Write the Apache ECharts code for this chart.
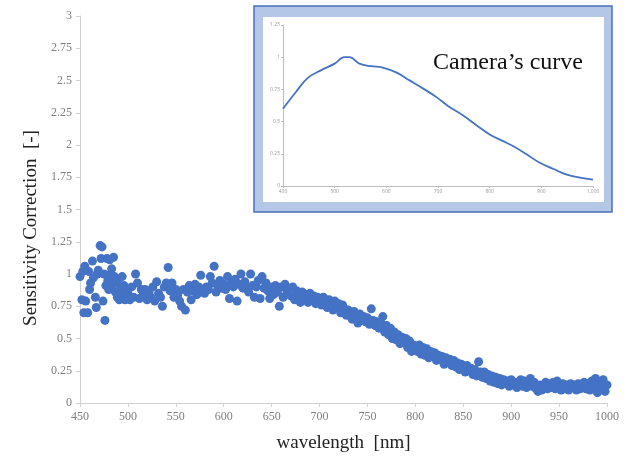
<!DOCTYPE html>
<html>
<head>
<meta charset="utf-8">
<script src="https://cdn.jsdelivr.net/npm/echarts@6/dist/echarts.min.js"></script>
<style>
  html, body { margin: 0; padding: 0; background: #fff; }
  #chart { width: 633px; height: 459px; }
</style>
</head>
<body>
<div id="chart"></div>
<script>
// measured sensitivity correction
const wavelength = [
  450, 452, 453, 454, 455, 456, 458, 459, 460, 461, 463, 464, 466, 467, 468, 469, 471, 472, 473, 474, 475, 476, 477, 478, 479,
  480, 481, 482, 483, 484, 485, 486, 487, 488, 489, 490, 491, 492, 493, 494, 495, 496, 497, 498, 499,
  500, 502, 504, 506, 508, 510, 512, 514, 516, 518, 520, 522, 524, 526, 528, 530, 532, 534, 536, 538, 540, 542, 544, 546, 548,
  550, 552, 554, 556, 558, 560, 562, 564, 566, 568, 570, 572, 574, 576, 578, 580, 582, 584, 586, 588, 590, 592, 594, 596, 598,
  600, 602, 604, 606, 608, 610, 612, 614, 616, 618, 620, 622, 624, 626, 628, 630, 632, 634, 636, 638, 640, 642, 644, 646, 648,
  650, 652, 654, 656, 658, 660, 662, 664, 666, 668, 670, 672, 674, 676, 678, 680, 682, 684, 686, 688, 690, 692, 694, 696, 698,
  700, 702, 704, 706, 708, 710, 712, 714, 716, 718, 720, 722, 724, 726, 728, 730, 732, 734, 736, 738, 740, 742, 744, 746, 748,
  750, 752, 754, 756, 758, 760, 762, 764, 766, 768, 770, 772, 774, 776, 778, 780, 782, 784, 786, 788, 790, 792, 794, 796, 798,
  800, 802, 804, 806, 808, 810, 812, 814, 816, 818, 820, 822, 824, 826, 828, 830, 832, 834, 836, 838, 840, 842, 844, 846, 848,
  850, 852, 854, 856, 858, 860, 862, 864, 866, 868, 870, 872, 874, 876, 878, 880, 882, 884, 886, 888, 890, 892, 894, 896, 898,
  900, 902, 904, 906, 908, 910, 912, 914, 916, 918, 920, 922, 924, 926, 928, 930, 932, 934, 936, 938, 940, 942, 944, 946, 948,
  950, 952, 954, 956, 958, 960, 962, 964, 966, 968, 970, 972, 974, 976, 978, 980, 982, 984, 986, 988, 990, 992, 994, 996, 998, 1000
];
const correction = [
  0.98, 0.80, 1.02, 0.70, 1.06, 0.79, 0.70, 1.02, 0.88, 0.93, 1.10, 0.97, 0.82, 0.74, 1.00, 1.03, 1.22, 1.12, 1.21, 0.79, 1.00, 0.64, 0.91, 1.12, 0.95,
  0.88, 1.11, 1.00, 1.04, 0.92, 1.13, 0.98, 0.86, 0.93, 0.82, 0.96, 0.80, 0.88, 0.85, 0.98, 0.81, 0.91, 0.80, 0.87, 0.83,
  0.85, 0.80, 0.90, 0.82, 1.00, 0.93, 0.81, 0.88, 0.84, 0.88, 0.80, 0.86, 0.82, 0.90, 0.79, 0.94, 0.85, 0.82, 0.75, 0.90, 0.93, 1.05, 0.87, 0.93, 0.82,
  0.88, 0.84, 0.79, 0.75, 0.88, 0.72, 0.86, 0.91, 0.80, 0.87, 0.92, 0.84, 0.90, 0.99, 0.87, 0.85, 0.90, 0.88, 0.98, 0.93, 1.06, 0.86, 0.90, 0.95, 0.89,
  0.92, 0.88, 0.98, 0.81, 0.93, 0.90, 0.96, 0.79, 0.92, 1.00, 0.89, 0.94, 0.90, 0.86, 1.00, 0.91, 0.82, 0.90, 0.95, 0.81, 0.98, 0.89, 0.93, 0.87, 0.81,
  0.90, 0.84, 0.91, 0.86, 0.75, 0.90, 0.82, 0.92, 0.86, 0.89, 0.83, 0.90, 0.80, 0.87, 0.84, 0.78, 0.86, 0.81, 0.84, 0.78, 0.85, 0.80, 0.83, 0.77, 0.82,
  0.80, 0.76, 0.82, 0.78, 0.74, 0.80, 0.77, 0.72, 0.79, 0.75, 0.77, 0.70, 0.76, 0.73, 0.68, 0.72, 0.70, 0.65, 0.71, 0.66, 0.62, 0.69, 0.64, 0.67, 0.63,
  0.66, 0.61, 0.73, 0.64, 0.60, 0.63, 0.58, 0.62, 0.67, 0.55, 0.60, 0.53, 0.58, 0.50, 0.55, 0.49, 0.53, 0.46, 0.51, 0.47, 0.50, 0.43, 0.48, 0.40, 0.45,
  0.44, 0.40, 0.45, 0.38, 0.43, 0.37, 0.42, 0.35, 0.40, 0.37, 0.39, 0.33, 0.37, 0.34, 0.36, 0.30, 0.35, 0.32, 0.34, 0.29, 0.33, 0.28, 0.31, 0.26, 0.30,
  0.28, 0.24, 0.29, 0.25, 0.27, 0.22, 0.26, 0.21, 0.32, 0.24, 0.20, 0.24, 0.19, 0.22, 0.17, 0.21, 0.16, 0.20, 0.15, 0.19, 0.14, 0.18, 0.16, 0.17, 0.13,
  0.18, 0.14, 0.16, 0.12, 0.16, 0.18, 0.13, 0.17, 0.12, 0.15, 0.19, 0.13, 0.16, 0.11, 0.09, 0.14, 0.10, 0.13, 0.16, 0.11, 0.15, 0.12, 0.16, 0.11, 0.17,
  0.13, 0.10, 0.15, 0.11, 0.14, 0.10, 0.15, 0.12, 0.14, 0.10, 0.15, 0.11, 0.13, 0.16, 0.11, 0.15, 0.10, 0.17, 0.12, 0.19, 0.08, 0.16, 0.11, 0.18, 0.09, 0.14
];

// inset: camera response
const cameraWl = [400, 425, 448, 474, 500, 519, 529, 548, 570, 593, 620, 645, 670, 697, 720, 748, 775, 800, 825, 845, 870, 897, 925, 948, 975, 1000];
const cameraResp = [0.60, 0.73, 0.84, 0.90, 0.95, 1.00, 1.00, 0.95, 0.93, 0.92, 0.88, 0.82, 0.76, 0.69, 0.62, 0.55, 0.47, 0.40, 0.35, 0.31, 0.25, 0.18, 0.13, 0.09, 0.065, 0.05];

const yTitle = 'Sensitivity Correction  [-]';
const xTitle = 'wavelength  [nm]';
const insetTitle = 'Camera’s curve';

const serif = '"Liberation Serif", "DejaVu Serif", serif';
const blue = '#4472c4';

const chart = echarts.init(document.getElementById('chart'));

const option = {
    animation: false,
    textStyle: { fontFamily: serif },
    grid: [
        { left: 80, right: 26, top: 16, bottom: 56 },
        { left: 283, top: 25, width: 310, height: 161 }
    ],
    graphic: [
        {
            type: 'rect', z: -10, silent: true,
            shape: { x: 254, y: 6, width: 358, height: 206 },
            style: { fill: '#b4c7e7', stroke: '#4a70b8', lineWidth: 1.5 }
        },
        {
            type: 'rect', z: -9, silent: true,
            shape: { x: 263, y: 17, width: 341, height: 185 },
            style: { fill: '#fff' }
        },
        {
            type: 'text', left: 433, top: 51, silent: true,
            style: { text: insetTitle, font: '24px ' + serif, fill: '#111' }
        },
        {
            type: 'text', x: 31, y: 228, rotation: Math.PI / 2, silent: true,
            style: { text: yTitle, font: '19px ' + serif, fill: '#222', align: 'center', verticalAlign: 'middle' }
        }
    ],
    xAxis: [
        {
            gridIndex: 0, type: 'value', min: 450, max: 1000, interval: 50,
            name: xTitle, nameLocation: 'middle', nameGap: 31,
            nameTextStyle: { fontFamily: serif, fontSize: 19, color: '#222' },
            axisLine: { lineStyle: { color: '#d0d0d0' } },
            axisTick: { show: true, length: 4, lineStyle: { color: '#d0d0d0' } },
            axisLabel: { color: '#7f7f7f', fontSize: 12, margin: 8, fontFamily: serif, formatter: v => String(v) },
            splitLine: { show: false }
        },
        {
            gridIndex: 1, type: 'value', min: 400, max: 1000, interval: 100,
            axisLine: { lineStyle: { color: '#bdbdbd' } },
            axisTick: { show: true, length: 2, lineStyle: { color: '#bdbdbd' } },
            axisLabel: {
                color: '#999', fontSize: 5, margin: 3, fontFamily: '"Open Sans", sans-serif',
                formatter: v => v >= 1000 ? '1,000' : String(v)
            },
            splitLine: { show: false }
        }
    ],
    yAxis: [
        {
            gridIndex: 0, type: 'value', min: 0, max: 3, interval: 0.25,
            axisLine: { show: true, lineStyle: { color: '#d0d0d0' } },
            axisTick: { show: true, length: 4, lineStyle: { color: '#d0d0d0' } },
            axisLabel: { color: '#7f7f7f', fontSize: 12, margin: 8, fontFamily: serif },
            splitLine: { show: false }
        },
        {
            gridIndex: 1, type: 'value', min: 0, max: 1.25, interval: 0.25,
            axisLine: { show: true, lineStyle: { color: '#bdbdbd' } },
            axisTick: { show: true, length: 2, lineStyle: { color: '#bdbdbd' } },
            axisLabel: { color: '#999', fontSize: 5, margin: 3, fontFamily: '"Open Sans", sans-serif' },
            splitLine: { show: false }
        }
    ],
    series: [
        {
            type: 'scatter',
            xAxisIndex: 0, yAxisIndex: 0,
            data: wavelength.map((w, i) => [w, correction[i]]),
            symbolSize: 9,
            itemStyle: { color: blue, opacity: 1 }
        },
        {
            type: 'line',
            xAxisIndex: 1, yAxisIndex: 1,
            data: cameraWl.map((w, i) => [w, cameraResp[i]]),
            smooth: 0.4,
            symbol: 'none',
            lineStyle: { color: blue, width: 1.8 }
        }
    ]
};

chart.setOption(option);

window.addEventListener('resize', () => {
    chart.resize();
});
</script>
</body>
</html>
